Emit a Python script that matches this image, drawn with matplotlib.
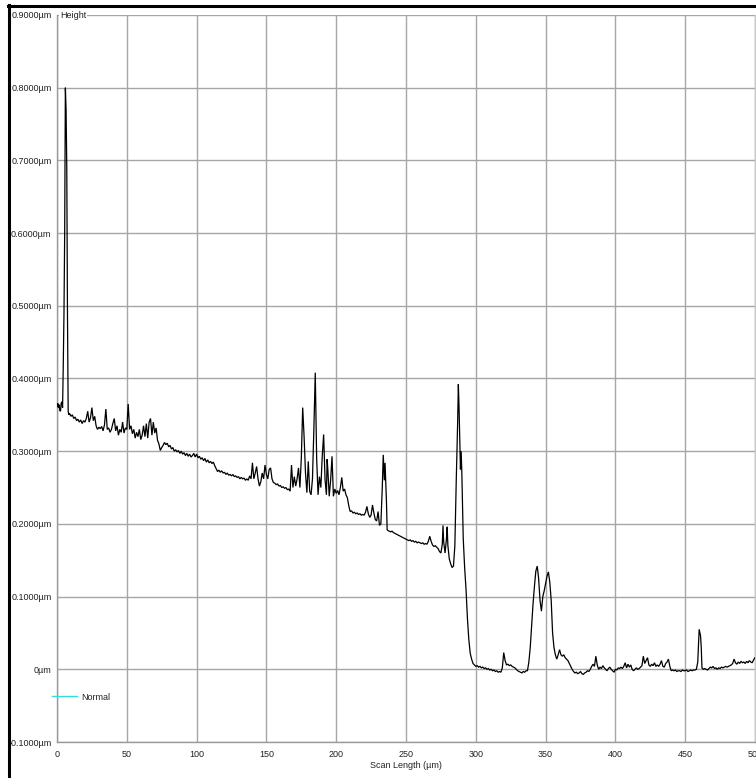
import numpy as np
import matplotlib
matplotlib.use("Agg")
import matplotlib.pyplot as plt
from matplotlib.lines import Line2D
from matplotlib.ticker import FuncFormatter, MultipleLocator

# ---- profile data: scan position (um) and surface height (um) ----
scan_um = [
    0, 0.5, 1, 1.5, 2, 2.5, 3, 3.5, 4, 4.5, 5, 5.5, 6, 6.5, 7, 7.5, 8, 8.5, 9,
    10, 11, 12, 13, 14, 15, 16, 17, 18, 19, 20, 21, 22, 23, 24, 25, 26, 27, 28, 29,
    30, 31, 32, 33, 34, 35, 36, 37, 38, 39, 40, 41, 42, 43, 44, 45, 46, 47, 48, 49,
    50, 51, 52, 53, 54, 55, 56, 57, 58, 59, 60, 61, 62, 63, 64, 65, 66, 67, 68, 69,
    70, 71, 72, 73, 74, 75, 76, 77, 78, 79, 80, 81, 82, 83, 84, 85, 86, 87, 88, 89,
    90, 91, 92, 93, 94, 95, 96, 97, 98, 99, 100, 101, 102, 103, 104, 105, 106, 107,
    108, 109, 110, 111, 112, 113, 114, 115, 116, 117, 118, 119, 120, 121, 122, 123,
    124, 125, 126, 127, 128, 129, 130, 131, 132, 133, 134, 135, 136, 137, 138, 139,
    140, 141, 142, 143, 144, 145, 146, 147, 148, 149, 150, 151, 152, 153, 154, 155,
    156, 157, 158, 159, 160, 161, 162, 163, 164, 165, 166, 167, 168, 169, 170, 171,
    172, 173, 174, 175, 176, 177, 178, 179, 180, 181, 182, 183, 184, 185, 186, 187,
    188, 189, 190, 191, 192, 193, 193.5, 194, 195, 196, 197, 198, 199, 200, 201, 202,
    203, 204, 205, 206, 207, 208, 209, 210, 211, 212, 213, 214, 215, 216, 217, 218,
    219, 220, 221, 222, 223, 224, 225, 226, 227, 228, 229, 230, 231, 232, 233, 233.7,
    234.5, 235, 236, 236.5, 237, 238, 239, 240, 241, 242, 243, 244, 245, 246, 247,
    248, 249, 250, 251, 252, 253, 254, 255, 256, 257, 258, 259, 260, 261, 262, 263,
    264, 265, 266, 267, 268, 269, 270, 271, 272, 273, 274, 275, 276, 276.5, 277, 278,
    279, 279.5, 280, 281, 282, 283, 284, 285, 286, 287, 287.5, 288, 289, 289.5, 290,
    291, 292, 293, 294, 295, 296, 297, 298, 299, 300, 301, 302, 303, 304, 305, 306,
    307, 308, 309, 310, 311, 312, 313, 314, 315, 316, 317, 318, 319, 320, 321, 322,
    323, 324, 325, 326, 327, 328, 329, 330, 331, 332, 333, 334, 335, 336, 337, 338,
    339, 340, 341, 342, 343, 344, 345, 346, 347, 348, 349, 350, 351, 352, 353, 354,
    355, 356, 357, 358, 359, 360, 361, 362, 363, 364, 365, 366, 367, 368, 369, 370,
    371, 372, 373, 374, 375, 376, 377, 378, 379, 380, 381, 382, 383, 384, 385, 386,
    387, 388, 389, 390, 391, 392, 393, 394, 395, 396, 397, 398, 399, 400, 401, 402,
    403, 404, 405, 406, 407, 408, 409, 410, 411, 412, 413, 414, 415, 416, 417, 418,
    419, 420, 421, 422, 423, 424, 425, 426, 427, 428, 429, 430, 431, 432, 433, 434,
    435, 436, 437, 438, 439, 440, 441, 442, 443, 444, 445, 446, 447, 448, 449, 450,
    451, 452, 453, 454, 455, 456, 457, 458, 459, 460, 461, 461.5, 462, 463, 464, 465,
    466, 467, 468, 469, 470, 471, 472, 473, 474, 475, 476, 477, 478, 479, 480, 481,
    482, 483, 484, 485, 486, 487, 488, 489, 490, 491, 492, 493, 494, 495, 496, 497,
    498, 499, 500,
]

height_um = [
    0.362, 0.366, 0.360, 0.364, 0.356, 0.355, 0.366, 0.368, 0.360, 0.420, 0.490,
    0.600, 0.800, 0.770, 0.690, 0.490, 0.355, 0.350, 0.352,
    0.348, 0.350, 0.345, 0.347, 0.342, 0.344, 0.340, 0.343, 0.338, 0.342,
    0.340, 0.345, 0.355, 0.340, 0.346, 0.360, 0.342, 0.348, 0.335, 0.330,
    0.333, 0.331, 0.334, 0.328, 0.336, 0.358, 0.330, 0.332, 0.326, 0.330,
    0.338, 0.345, 0.328, 0.335, 0.322, 0.330, 0.326, 0.340, 0.325, 0.332,
    0.330, 0.365, 0.330, 0.335, 0.324, 0.330, 0.318, 0.326, 0.320, 0.330,
    0.316, 0.322, 0.335, 0.320, 0.338, 0.318, 0.340, 0.345, 0.322, 0.340,
    0.325, 0.332, 0.315, 0.310, 0.301, 0.305, 0.308, 0.312, 0.309, 0.311,
    0.306, 0.308, 0.303, 0.305, 0.300, 0.302, 0.299, 0.301, 0.297, 0.300,
    0.296, 0.298, 0.294, 0.297, 0.293, 0.296, 0.292, 0.294, 0.297, 0.292,
    0.296, 0.291, 0.293, 0.289, 0.291, 0.287, 0.290, 0.285,
    0.288, 0.284, 0.286, 0.283, 0.285, 0.280, 0.276, 0.272, 0.274, 0.271,
    0.273, 0.270, 0.271, 0.268, 0.270, 0.267,
    0.268, 0.266, 0.268, 0.265, 0.266, 0.264, 0.265, 0.262, 0.264, 0.262,
    0.263, 0.260, 0.262, 0.260, 0.266, 0.262,
    0.284, 0.262, 0.270, 0.279, 0.262, 0.252, 0.258, 0.270, 0.262, 0.281,
    0.268, 0.262, 0.275, 0.277, 0.262, 0.257,
    0.256, 0.254, 0.255, 0.252, 0.253, 0.250, 0.251, 0.249, 0.250, 0.247,
    0.248, 0.245, 0.281, 0.250, 0.265, 0.252,
    0.262, 0.277, 0.250, 0.290, 0.360, 0.320, 0.270, 0.243, 0.286, 0.245,
    0.240, 0.262, 0.330, 0.408, 0.290, 0.240,
    0.265, 0.250, 0.293, 0.323, 0.261, 0.240, 0.289, 0.275, 0.238, 0.260,
    0.293, 0.238, 0.248, 0.242, 0.246, 0.240,
    0.250, 0.264, 0.245, 0.248, 0.240, 0.236, 0.225, 0.217, 0.218, 0.215,
    0.216, 0.214, 0.215, 0.213, 0.214, 0.212,
    0.213, 0.212, 0.216, 0.224, 0.214, 0.209, 0.212, 0.226, 0.215, 0.206,
    0.204, 0.217, 0.198, 0.200, 0.250, 0.295,
    0.260, 0.284, 0.230, 0.192, 0.191, 0.190, 0.189, 0.190, 0.188, 0.187,
    0.186, 0.185, 0.184, 0.183, 0.182,
    0.181, 0.180, 0.179, 0.178, 0.177, 0.178, 0.176, 0.177, 0.175, 0.176,
    0.174, 0.175, 0.174, 0.173, 0.174, 0.172,
    0.173, 0.172, 0.176, 0.183, 0.176, 0.171, 0.169, 0.170, 0.168, 0.166,
    0.162, 0.160, 0.172, 0.198, 0.175, 0.160,
    0.180, 0.196, 0.170, 0.152, 0.145, 0.140, 0.142, 0.170, 0.260, 0.340,
    0.392, 0.360, 0.275, 0.300, 0.270,
    0.180, 0.140, 0.110, 0.070, 0.041, 0.022, 0.014, 0.008, 0.006, 0.004,
    0.005, 0.003, 0.004, 0.002, 0.003, 0.001,
    0.002, 0.000, 0.001, -0.001, 0.000, -0.002, -0.001, -0.003, -0.002,
    -0.004, -0.003, -0.004, 0.002, 0.023, 0.012, 0.006,
    0.007, 0.005, 0.006, 0.004, 0.003, 0.002, 0.000, -0.002, -0.003, -0.004,
    -0.005, -0.003, -0.004, -0.002, -0.002, 0.010,
    0.030, 0.060, 0.090, 0.114, 0.135, 0.142, 0.125, 0.095, 0.080, 0.100,
    0.108, 0.118, 0.128, 0.134, 0.120, 0.095,
    0.050, 0.030, 0.020, 0.014, 0.020, 0.027, 0.020, 0.018, 0.020, 0.016,
    0.014, 0.012, 0.008, 0.004, 0.000, -0.003,
    -0.005, -0.004, -0.006, -0.005, -0.003, -0.006, -0.007, -0.005, -0.004,
    -0.002, -0.003, 0.000, 0.004, 0.007, 0.004, 0.018,
    0.006, 0.000, 0.003, 0.001, 0.005, 0.002, 0.000, -0.002, 0.001, 0.003,
    0.000, -0.002, -0.004, 0.000, -0.001, 0.002,
    0.001, 0.003, 0.001, 0.004, 0.009, 0.002, 0.007, 0.003, 0.006, 0.000,
    -0.002, 0.000, 0.002, 0.000, 0.001, 0.003,
    0.005, 0.018, 0.008, 0.012, 0.016, 0.006, 0.004, 0.007, 0.005, 0.009,
    0.004, 0.006, 0.004, 0.007, 0.012, 0.004,
    0.003, 0.008, 0.010, 0.014, 0.004, -0.002, -0.001, -0.002, -0.001,
    -0.003, -0.002, -0.002, -0.003, -0.001, -0.002, -0.002,
    -0.001, -0.003, -0.002, -0.001, -0.002, -0.001, -0.001, 0.000, 0.010,
    0.055, 0.046, 0.030, 0.002, 0.000, 0.001, 0.000,
    -0.001, 0.001, 0.003, 0.002, 0.004, 0.001, 0.002, 0.000, 0.002, 0.001,
    0.003, 0.002, 0.003, 0.004, 0.003, 0.004,
    0.005, 0.006, 0.008, 0.014, 0.009, 0.007, 0.010, 0.008, 0.011, 0.009,
    0.010, 0.008, 0.011, 0.009, 0.012, 0.010,
    0.009, 0.013, 0.016,
]

x_ticks = [0, 50, 100, 150, 200, 250, 300, 350, 400, 450, 500]
y_ticks = [-0.1, 0.0, 0.1, 0.2, 0.3, 0.4, 0.5, 0.6, 0.7, 0.8, 0.9]
x_title = "Scan Length (µm)"
y_title = "Height"
series_name = "Normal"

W, H = 756, 778
plt.rcParams["font.family"] = ["Liberation Sans", "DejaVu Sans"]
FS = 6.5
TXT = "#222222"
GRID = "#a6a6a6"

fig = plt.figure(figsize=(W / 100, H / 100), dpi=100, facecolor="white")
left_px, right_px, top_px, bottom_px = 57, 755, 15, 742
ax = fig.add_axes([left_px / W, (H - bottom_px) / H,
                   (right_px - left_px) / W, (bottom_px - top_px) / H])

ax.plot(scan_um, height_um, color="black", lw=0.9, solid_joinstyle="miter",
        zorder=3)

ax.set_xlim(x_ticks[0], x_ticks[-1])
ax.set_ylim(y_ticks[0], y_ticks[-1])
ax.xaxis.set_major_locator(MultipleLocator(50))
ax.set_xticks(x_ticks)
ax.set_yticks(y_ticks)


def fmt_height(v, _pos):
    if abs(v) < 1e-9:
        return "0µm"
    return f"{v:.4f}µm"


ax.yaxis.set_major_formatter(FuncFormatter(fmt_height))
ax.xaxis.set_major_formatter(FuncFormatter(lambda v, p: f"{v:g}"))
ax.tick_params(axis="both", length=0, labelsize=FS, labelcolor=TXT)
ax.tick_params(axis="y", pad=4)
ax.tick_params(axis="x", pad=6)

ax.grid(True, color=GRID, lw=1.0)
ax.set_axisbelow(True)
for side in ("left", "bottom"):
    ax.spines[side].set_color("#9a9a9a")
    ax.spines[side].set_linewidth(1.0)
ax.spines["top"].set_visible(False)
ax.spines["right"].set_color("#c8c8c8")
ax.spines["right"].set_linewidth(1.0)

ax.set_xlabel(x_title, fontsize=FS, color=TXT, labelpad=1)

# axis title sitting on the top grid line
ax.text(0.004, 1.0, y_title, transform=ax.transAxes, fontsize=FS, color=TXT,
        ha="left", va="center",
        bbox=dict(facecolor="white", edgecolor="none", pad=0.6), zorder=5)

# series legend below the zero line
leg = ax.legend(handles=[Line2D([], [], color="#33dddd", lw=1.0)],
                labels=[series_name], loc="center left",
                bbox_to_anchor=(52 / W, 1 - 697 / H),
                bbox_transform=fig.transFigure, frameon=False,
                fontsize=FS, handlelength=2.8, handletextpad=0.45,
                borderpad=0, borderaxespad=0)
for t in leg.get_texts():
    t.set_color(TXT)

# window frame edges
fig.add_artist(Line2D([8 / W, 1], [1 - 5.5 / H, 1 - 5.5 / H],
                      transform=fig.transFigure, color="black", lw=2.2))
fig.add_artist(Line2D([9 / W, 9 / W], [0, 1 - 5 / H],
                      transform=fig.transFigure, color="black", lw=2.2))

fig.savefig("out.png", dpi=100, facecolor="white")
